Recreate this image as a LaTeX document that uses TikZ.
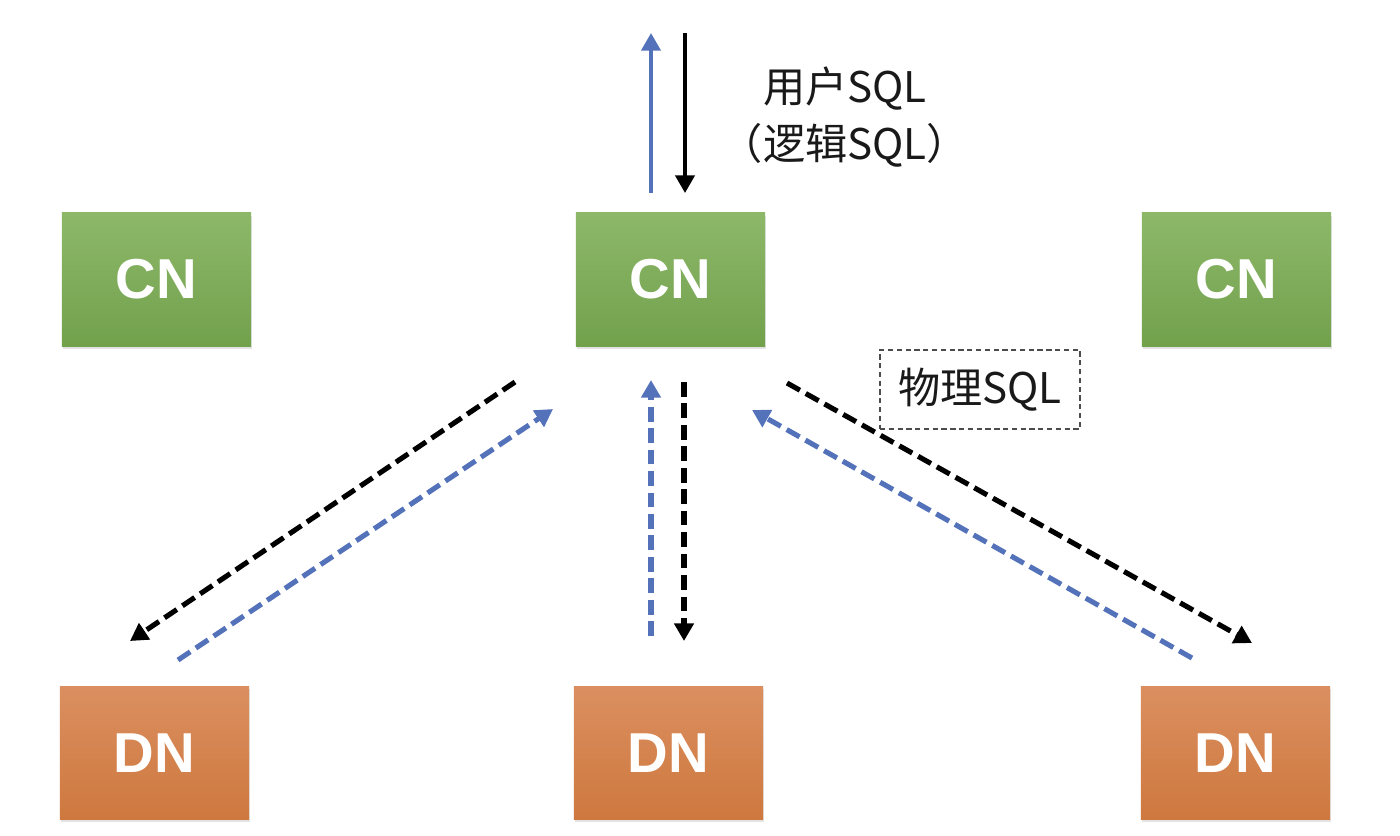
\documentclass[tikz,border=0pt]{standalone}
\usepackage{fontspec}
\setmainfont{Liberation Sans}
\newfontfamily\cjk{Noto Sans CJK SC}
\usetikzlibrary{arrows.meta,shadows}
\definecolor{arrowblue}{RGB}{84,114,186}
\definecolor{gtop}{RGB}{141,184,106}
\definecolor{gbot}{RGB}{114,161,76}
\definecolor{otop}{RGB}{219,143,96}
\definecolor{obot}{RGB}{206,120,62}
\tikzset{
  nodebox/.style={minimum width=1.89cm, minimum height=1.33cm, inner sep=0pt,
    text=white, font=\fontsize{16}{19}\selectfont\bfseries,
    drop shadow={opacity=0.22, shadow xshift=0.4pt, shadow yshift=-0.8pt}},
  cnbox/.style={nodebox, top color=gtop, bottom color=gbot},
  dnbox/.style={nodebox, top color=otop, bottom color=obot},
  tip/.style={-{Triangle[length=5pt,width=5.4pt]}},
  solidarrow/.style={tip, line width=1.1pt},
  dasharrow/.style={tip, line width=1.45pt, dash pattern=on 4.2pt off 1.9pt},
  lbl/.style={font=\cjk\fontsize{12}{16}\selectfont, text=black!90, align=center},
}
\begin{document}
\begin{tikzpicture}[x=0.01cm, y=-0.01cm]
\useasboundingbox (0,0) rectangle (1400,835);
% nodes
\node[cnbox] (cn1) at (156.5,279.5) {CN};
\node[cnbox] (cn2) at (670.5,279.5) {CN};
\node[cnbox] (cn3) at (1236.5,279.5) {CN};
\node[dnbox] (dn1) at (154.5,753) {DN};
\node[dnbox] (dn2) at (668.5,753) {DN};
\node[dnbox] (dn3) at (1235.5,753) {DN};
% labels
\node[lbl] (user) at (845,117) {用户SQL\\（逻辑SQL）};
\node[lbl, draw=black!70, line width=0.5pt, dash pattern=on 1.5pt off 1pt,
      minimum width=2.0cm, minimum height=0.79cm, inner sep=0pt] (phys) at (980,389.5) {物理SQL};
% coordinates for arrow ends
\coordinate (ua1) at (651,193); \coordinate (ua2) at (651,33);
\coordinate (ud1) at (685,33);  \coordinate (ud2) at (685,193);
\coordinate (lk1) at (515,382); \coordinate (lk2) at (130,641);
\coordinate (lb1) at (178,660); \coordinate (lb2) at (553,409);
\coordinate (mb1) at (651,636); \coordinate (mb2) at (651,380);
\coordinate (mk1) at (684,382); \coordinate (mk2) at (684,641);
\coordinate (rb1) at (1192,658); \coordinate (rb2) at (752,410);
\coordinate (rk1) at (787,383); \coordinate (rk2) at (1252,643);
% arrows
\draw[solidarrow, arrowblue] (ua1) -- (ua2);
\draw[solidarrow, black] (ud1) -- (ud2);
\draw[dasharrow, black] (lk1) -- (lk2);
\draw[dasharrow, arrowblue] (lb1) -- (lb2);
\draw[dasharrow, arrowblue] (mb1) -- (mb2);
\draw[dasharrow, black] (mk1) -- (mk2);
\draw[dasharrow, arrowblue] (rb1) -- (rb2);
\draw[dasharrow, black] (rk1) -- (rk2);
\end{tikzpicture}
\end{document}
